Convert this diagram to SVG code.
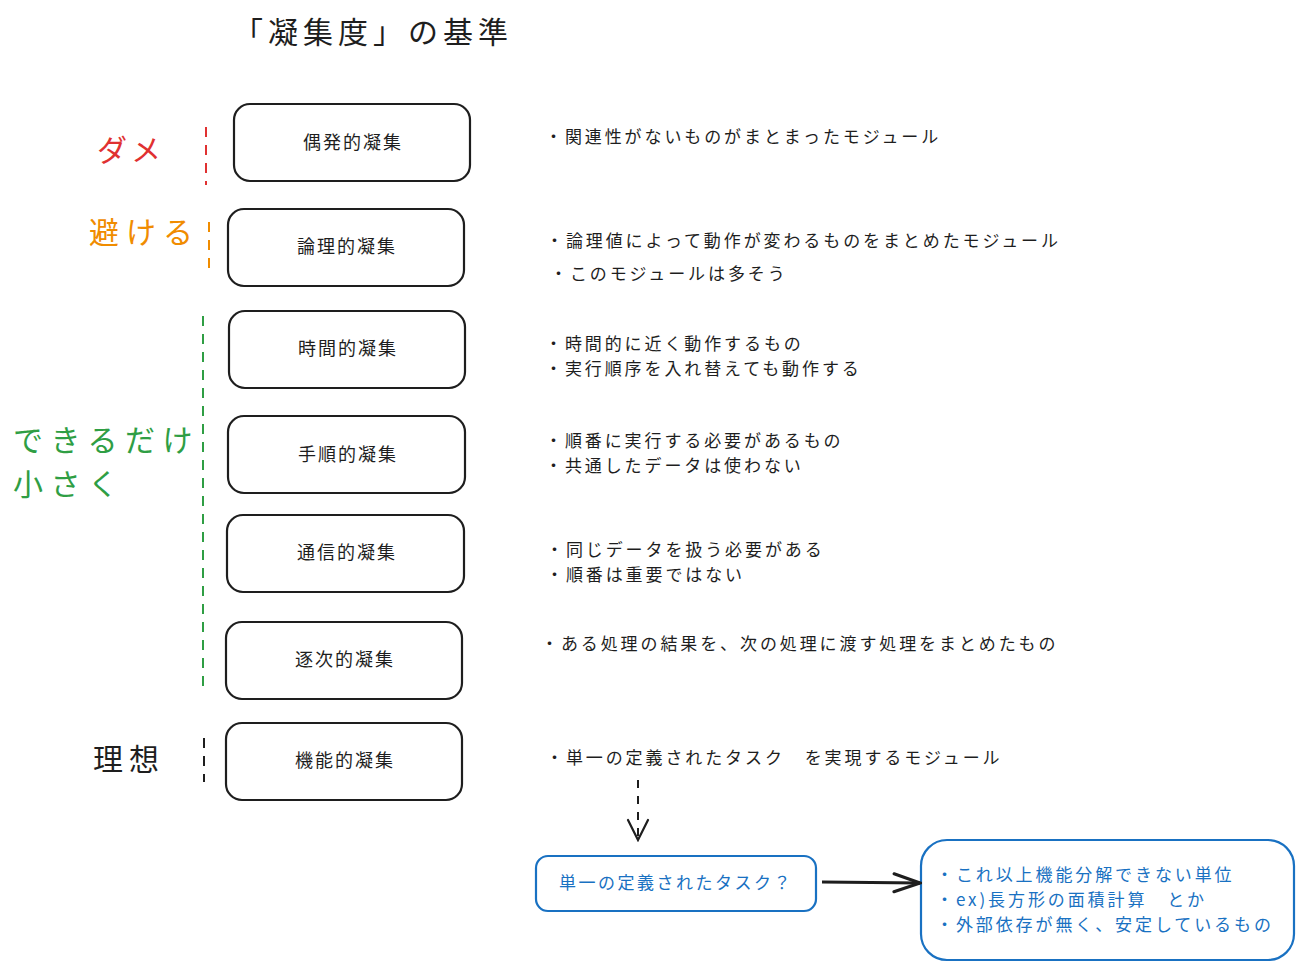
<svg xmlns="http://www.w3.org/2000/svg" width="1304" height="970" viewBox="0 0 1304 970">
<defs>
<style>
text{font-family:"Noto Sans CJK JP","Noto Sans",sans-serif;fill:#1e1e1e;dominant-baseline:central}
.box{fill:#fff;stroke:#1e1e1e;stroke-width:2.2}
.bl{font-size:18px;letter-spacing:2px;text-anchor:middle}
.desc{font-size:17px;letter-spacing:2.9px}
.big{font-size:30px;letter-spacing:5px}
.dash{stroke-width:2;stroke-dasharray:10 8;fill:none}
.blue{fill:#fff;stroke:#1971c2;stroke-width:2.2}
.bd{font-size:17px;letter-spacing:2.9px;fill:#1971c2}
</style>
<marker id="ah" viewBox="0 0 24 28" refX="22" refY="14" markerWidth="24" markerHeight="28" markerUnits="userSpaceOnUse" orient="auto">
<path d="M2,4 L22,14 L2,24" fill="none" stroke="#1e1e1e" stroke-width="2.2" stroke-linecap="round"/>
</marker>
<marker id="ah2" viewBox="0 0 30 24" refX="28" refY="12" markerWidth="30" markerHeight="24" markerUnits="userSpaceOnUse" orient="auto">
<path d="M2,3 L28,12 L2,21" fill="none" stroke="#1e1e1e" stroke-width="3" stroke-linecap="round"/>
</marker>
</defs>
<rect width="1304" height="970" fill="#fff"/>

<g id="title"><text x="233" y="30" style="font-size:30px;letter-spacing:5px">「凝集度」の基準</text></g>

<g id="labels">
<text class="big" x="97" y="148" style="fill:#e03131">ダメ</text>
<text class="big" x="89" y="230" style="fill:#f08c00;letter-spacing:7px">避ける</text>
<text class="big" x="13" y="438" style="fill:#2f9e44;letter-spacing:7.5px">できるだけ</text>
<text class="big" x="13" y="482" style="fill:#2f9e44;letter-spacing:7.5px">小さく</text>
<text class="big" x="93" y="757" style="letter-spacing:6px">理想</text>
</g>

<g id="brackets">
<line class="dash" x1="206" y1="127" x2="206" y2="185" stroke="#e03131"/>
<line class="dash" x1="209" y1="222" x2="209" y2="269" stroke="#f08c00"/>
<line class="dash" x1="203" y1="316" x2="203" y2="686" stroke="#2f9e44"/>
<line class="dash" x1="204" y1="738" x2="204" y2="782" stroke="#1e1e1e"/>
</g>

<g id="n1"><rect class="box" x="234" y="104" width="236" height="77" rx="16"/><text class="bl" x="353" y="141">偶発的凝集</text></g>
<g id="n2"><rect class="box" x="228" y="209" width="236" height="77" rx="16"/><text class="bl" x="347" y="245">論理的凝集</text></g>
<g id="n3"><rect class="box" x="229" y="311" width="236" height="77" rx="16"/><text class="bl" x="348" y="347">時間的凝集</text></g>
<g id="n4"><rect class="box" x="228" y="416" width="237" height="77" rx="16"/><text class="bl" x="348" y="453">手順的凝集</text></g>
<g id="n5"><rect class="box" x="227" y="515" width="237" height="77" rx="16"/><text class="bl" x="347" y="551">通信的凝集</text></g>
<g id="n6"><rect class="box" x="226" y="622" width="236" height="77" rx="16"/><text class="bl" x="345" y="658">逐次的凝集</text></g>
<g id="n7"><rect class="box" x="226" y="723" width="236" height="77" rx="16"/><text class="bl" x="345" y="759">機能的凝集</text></g>

<g id="descs">
<text class="desc" x="545" y="135">・関連性がないものがまとまったモジュール</text>
<text class="desc" x="546" y="239">・論理値によって動作が変わるものをまとめたモジュール</text>
<text class="desc" x="550" y="272">・このモジュールは多そう</text>
<text class="desc" x="545" y="342">・時間的に近く動作するもの</text>
<text class="desc" x="545" y="367">・実行順序を入れ替えても動作する</text>
<text class="desc" x="545" y="439">・順番に実行する必要があるもの</text>
<text class="desc" x="545" y="464">・共通したデータは使わない</text>
<text class="desc" x="546" y="548">・同じデータを扱う必要がある</text>
<text class="desc" x="546" y="573">・順番は重要ではない</text>
<text class="desc" x="541" y="642">・ある処理の結果を、次の処理に渡す処理をまとめたもの</text>
<text class="desc" x="546" y="756">・単一の定義されたタスク　を実現するモジュール</text>
</g>

<g id="task"><rect class="blue" x="536" y="856" width="280" height="55" rx="12"/><text x="676" y="881" style="font-size:17px;letter-spacing:2.5px;text-anchor:middle;fill:#1971c2">単一の定義されたタスク？</text></g>

<g id="detail"><rect class="blue" x="921" y="840" width="373" height="120" rx="26"/>
<text class="bd" x="936" y="873">・これ以上機能分解できない単位</text>
<text class="bd" x="936" y="898">・ex)長方形の面積計算　とか</text>
<text class="bd" x="936" y="923">・外部依存が無く、安定しているもの</text>
</g>

<g id="connectors">
<line x1="638" y1="780" x2="638" y2="840" stroke="#1e1e1e" stroke-width="2" stroke-dasharray="8 8" marker-end="url(#ah)"/>
<line x1="822" y1="882" x2="920" y2="883" stroke="#1e1e1e" stroke-width="3" marker-end="url(#ah2)"/>
</g>
</svg>
